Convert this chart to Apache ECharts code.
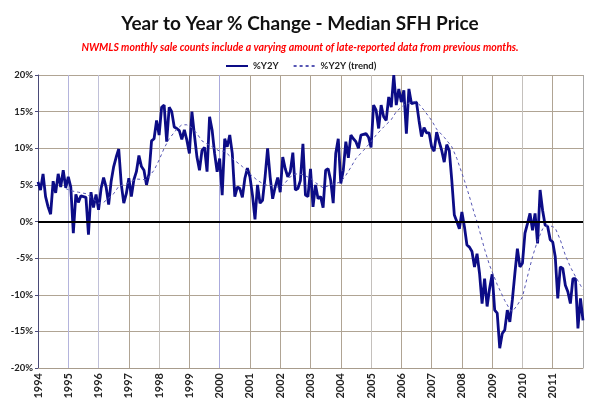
<!DOCTYPE html>
<html><head><meta charset="utf-8">
<script src="https://cdn.jsdelivr.net/npm/echarts@6/dist/echarts.min.js"></script>
<style>html,body{margin:0;padding:0;background:#fff}#c{width:600px;height:409px}</style>
</head><body><div id="c"></div>
<script>
// Tick labels (one per January)
const years = ['1994','1995','1996','1997','1998','1999','2000','2001','2002','2003','2004','2005','2006','2007','2008','2009','2010','2011'];
const firstYear = 1994;

// Monthly year-over-year % change of median SFH price, Jan 1994 .. Jan 2012
const y2y = [
  5.4, 4.3, 6.5, 3.4, 2.0, 1.0, 5.5, 3.9, 6.5, 4.7, 7.0, 4.6,
  6.1, 4.7, -1.6, 3.7, 2.6, 3.5, 3.4, 3.3, -1.8, 4.0, 1.9, 3.7,
  1.6, 4.5, 6.0, 4.7, 2.3, 5.5, 7.5, 8.8, 9.9, 5.1, 2.5, 3.8,
  5.9, 3.4, 5.7, 6.8, 9.0, 7.5, 7.0, 5.0, 6.5, 11.0, 11.3, 13.8,
  11.8, 15.6, 15.9, 10.9, 15.6, 15.0, 12.9, 12.7, 12.4, 11.2, 12.5, 11.1,
  9.3, 15.0, 11.8, 8.8, 7.0, 9.7, 10.1, 6.8, 14.3, 12.5, 9.3, 6.8,
  8.6, 3.6, 11.3, 10.2, 11.8, 9.3, 3.4, 4.7, 4.5, 3.3, 5.9, 7.3,
  6.1, 3.6, 0.3, 5.0, 2.5, 2.9, 6.1, 10.0, 6.1, 3.1, 4.7, 6.0,
  4.0, 8.8, 7.2, 6.1, 6.8, 9.4, 4.3, 4.5, 5.6, 10.6, 3.6, 3.4,
  7.2, 2.0, 5.0, 3.1, 3.4, 1.9, 7.0, 7.2, 5.6, 2.5, 9.3, 11.3,
  5.2, 7.0, 10.9, 8.7, 11.8, 11.3, 10.9, 10.0, 11.8, 11.9, 12.0, 11.5,
  10.1, 15.9, 15.2, 12.7, 15.9, 14.3, 13.8, 17.0, 15.6, 20.0, 15.9, 18.1,
  16.3, 17.9, 12.0, 18.1, 16.1, 16.2, 16.3, 13.8, 11.6, 12.8, 12.1, 12.1,
  10.2, 9.6, 12.2, 10.9, 9.7, 8.1, 10.5, 9.7, 5.6, 0.9, 0.0, -1.0,
  1.3, -0.7, -3.2, -3.5, -4.1, -6.2, -4.4, -7.1, -11.2, -7.8, -11.6, -9.1,
  -7.2, -12.1, -12.5, -17.3, -15.3, -14.8, -12.1, -13.7, -10.7, -7.1, -3.7, -6.2,
  -5.7, -1.6, -0.3, 1.1, -1.2, 1.1, -3.0, 4.3, 1.5, -0.5, -0.7, -2.5,
  -2.8, -4.8, -10.5, -6.2, -6.4, -8.7, -9.6, -11.2, -7.8, -7.8, -14.6, -10.5,
  -13.5
];

// Trend line (12-month moving average as drawn), read at sample months
const trendMonth = [11,13,16,19,21,24,26,28,30,32,34,36,39,43,46,48,50,52,55,57,59,61,63,65,68,70,72,74,77,81,84,87,90,93,96,98,100,102,105,108,110,113,116,120,122,124,126,129,132,134,137,140,142,145,148,150,153,156,158,161,164,166,169,171,173,174,177,179,182,185,187,188,190,192,194,196,198,200,202,204,205,207,209,211,213,215,216];
const trendValue = [4.5,4.2,4.0,3.8,3.3,2.5,2.6,3.2,3.8,4.8,5.0,5.3,5.8,5.7,7.0,8.4,10.0,11.3,12.6,13.2,13.2,12.8,12.0,11.0,10.4,10.0,9.6,9.6,8.6,7.5,6.5,5.6,5.0,4.9,4.6,5.3,6.1,6.5,6.4,5.9,5.3,4.6,5.0,5.4,6.3,7.4,8.6,9.7,10.9,11.8,12.9,13.9,15.0,15.9,16.3,16.4,15.2,13.8,12.6,11.5,10.2,8.6,5.6,3.4,1.0,0.0,-3.8,-6.0,-8.6,-10.8,-12.0,-12.3,-11.4,-10.3,-7.5,-4.8,-2.6,-1.0,-0.5,-0.7,-0.9,-2.5,-4.6,-6.2,-7.5,-8.7,-9.3];

const months = y2y.map((_, i) => (firstYear + Math.floor(i / 12)) + '-' + String(i % 12 + 1).padStart(2, '0'));
const trendData = trendMonth.map((m, k) => [m, trendValue[k]]);

const FONT = 'Lato, "Open Sans", sans-serif';
const chart = echarts.init(document.getElementById('c'), null, {renderer: 'canvas'});
chart.setOption({
  animation: false,
  backgroundColor: '#ffffff',
  title: [
    {text: 'Year to Year % Change - Median SFH Price', left: 'center', top: 9,
     textStyle: {fontFamily: FONT, fontSize: 19, fontWeight: 'bold', color: '#111'}},
    {text: 'NWMLS monthly sale counts include a varying amount of late-reported data from previous months.',
     left: 'center', top: 37,
     textStyle: {fontFamily: FONT, fontSize: 10.5, fontWeight: 'bold', fontStyle: 'italic', color: '#ff0000'}}
  ],
  legend: {
    top: 56, left: 220, itemWidth: 22, itemHeight: 10, itemGap: 14,
    itemStyle: {opacity: 0},
    textStyle: {fontFamily: FONT, fontSize: 9.5, fontWeight: 'bold', color: '#222'},
    data: ['%Y2Y', '%Y2Y (trend)']
  },
  grid: {left: 38, right: 17, top: 75, bottom: 41, containLabel: false},
  xAxis: {
    type: 'category', boundaryGap: false, data: months,
    axisLine: {onZero: false, lineStyle: {color: '#a89c8c', width: 1}},
    axisTick: {show: false},
    axisLabel: {
      interval: (idx) => idx % 12 === 0 && idx < y2y.length - 1,
      rotate: 90, margin: 5,
      formatter: (v) => v.slice(0, 4),
      fontFamily: FONT, fontSize: 11, fontWeight: 'bold', color: '#222'
    },
    splitLine: {
      show: true, interval: (idx) => idx % 12 === 0,
      lineStyle: {color: ['#b0a494', '#b4b4dc', '#c0c0d8', '#b0a494', '#c4c0bc', '#b0a494', '#aaaadc', '#b0a494', '#b0a494', '#b0a494', '#b0a494', '#c4c0bc', '#b0a494', '#b0a494', '#b0a494', '#b0a494', '#c4c0bc', '#b0a494', '#a8a8a8'], width: 1}
    }
  },
  yAxis: {
    type: 'value', min: -20, max: 20, interval: 5,
    axisLine: {show: true, lineStyle: {color: '#4a4a78', width: 1}},
    axisTick: {show: true, length: 3, lineStyle: {color: '#4a4a78'}},
    axisLabel: {formatter: '{value}%', margin: 5, fontFamily: FONT, fontSize: 9.5, fontWeight: 'bold', color: '#222'},
    splitLine: {show: true, lineStyle: {color: '#b0a494', width: 1}}
  },
  series: [
    {
      name: '%Y2Y', type: 'line', data: y2y, symbol: 'none', smooth: false,
      lineStyle: {color: '#0c0c86', width: 2.8}, itemStyle: {color: '#0c0c86'}, z: 3,
      markLine: {silent: true, symbol: 'none', label: {show: false},
        lineStyle: {color: '#000', width: 2, type: 'solid'}, data: [{yAxis: 0}]}
    },
    {
      name: '%Y2Y (trend)', type: 'line', data: trendData, symbol: 'none', smooth: false,
      lineStyle: {color: '#5656b4', width: 1, type: [3, 3]}, itemStyle: {color: '#5656b4'}, z: 4
    }
  ]
});
</script></body></html>
